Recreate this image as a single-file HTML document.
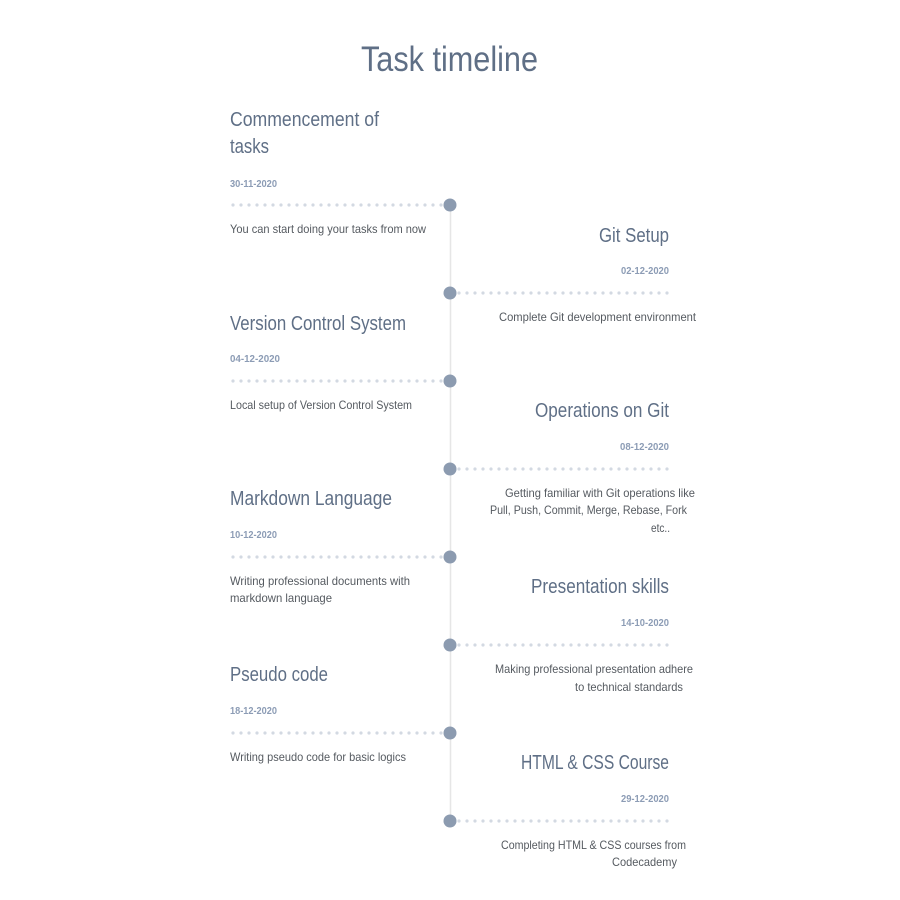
<!DOCTYPE html>
<html><head><meta charset="utf-8"><style>
html,body{margin:0;padding:0;background:#fff;width:900px;height:900px;overflow:hidden}
svg{display:block}
.h{font-family:"Liberation Sans",sans-serif;fill:#5f6f86;font-size:20px}
.d{font-family:"Liberation Sans",sans-serif;fill:#8c9cb5;font-size:10px;font-weight:bold}
.t{font-family:"Liberation Sans",sans-serif;fill:#555a60;font-size:12px}
</style></head><body>
<svg width="900" height="900" viewBox="0 0 900 900">
<text class="h" x="361" y="71" style="font-size:35px" textLength="177" lengthAdjust="spacingAndGlyphs">Task timeline</text>
<line x1="450.5" y1="205" x2="450.5" y2="821" stroke="#e6e6e6" stroke-width="1.5"/>
<path d="M233 205 H444 M233 381 H444 M233 557 H444 M233 733 H444 M459 293 H669 M459 469 H669 M459 645 H669 M459 821 H669" stroke="#d3d9e2" stroke-width="3.2" stroke-linecap="round" stroke-dasharray="0 8"/>
<g fill="#8c9bb0">
<circle cx="450" cy="205" r="6.5"/><circle cx="450" cy="293" r="6.5"/>
<circle cx="450" cy="381" r="6.5"/><circle cx="450" cy="469" r="6.5"/>
<circle cx="450" cy="557" r="6.5"/><circle cx="450" cy="645" r="6.5"/>
<circle cx="450" cy="733" r="6.5"/><circle cx="450" cy="821" r="6.5"/>
</g>
<!-- left -->
<text class="h" x="230" y="126" textLength="149" lengthAdjust="spacingAndGlyphs">Commencement of</text>
<text class="h" x="230" y="153" textLength="39" lengthAdjust="spacingAndGlyphs">tasks</text>
<text class="d" x="230" y="187" textLength="47" lengthAdjust="spacingAndGlyphs">30-11-2020</text>
<text class="t" x="230" y="233" textLength="196" lengthAdjust="spacingAndGlyphs">You can start doing your tasks from now</text>

<text class="h" x="230" y="330" textLength="176" lengthAdjust="spacingAndGlyphs">Version Control System</text>
<text class="d" x="230" y="362" textLength="50" lengthAdjust="spacingAndGlyphs">04-12-2020</text>
<text class="t" x="230" y="409" textLength="182" lengthAdjust="spacingAndGlyphs">Local setup of Version Control System</text>

<text class="h" x="230" y="505" textLength="162" lengthAdjust="spacingAndGlyphs">Markdown Language</text>
<text class="d" x="230" y="538" textLength="47" lengthAdjust="spacingAndGlyphs">10-12-2020</text>
<text class="t" x="230" y="585" textLength="180" lengthAdjust="spacingAndGlyphs">Writing professional documents with</text>
<text class="t" x="230" y="602" textLength="102" lengthAdjust="spacingAndGlyphs">markdown language</text>

<text class="h" x="230" y="681" textLength="98" lengthAdjust="spacingAndGlyphs">Pseudo code</text>
<text class="d" x="230" y="714" textLength="47" lengthAdjust="spacingAndGlyphs">18-12-2020</text>
<text class="t" x="230" y="761" textLength="176" lengthAdjust="spacingAndGlyphs">Writing pseudo code for basic logics</text>
<!-- right -->
<text class="h" x="599" y="242" textLength="70" lengthAdjust="spacingAndGlyphs">Git Setup</text>
<text class="d" x="621" y="274" textLength="48" lengthAdjust="spacingAndGlyphs">02-12-2020</text>
<text class="t" x="499" y="321" textLength="197" lengthAdjust="spacingAndGlyphs">Complete Git development environment</text>

<text class="h" x="535" y="417" textLength="134" lengthAdjust="spacingAndGlyphs">Operations on Git</text>
<text class="d" x="620" y="450" textLength="49" lengthAdjust="spacingAndGlyphs">08-12-2020</text>
<text class="t" x="505" y="497" textLength="190" lengthAdjust="spacingAndGlyphs">Getting familiar with Git operations like</text>
<text class="t" x="490" y="514" textLength="197" lengthAdjust="spacingAndGlyphs">Pull, Push, Commit, Merge, Rebase, Fork</text>
<text class="t" x="651" y="532" textLength="19" lengthAdjust="spacingAndGlyphs">etc..</text>

<text class="h" x="531" y="593" textLength="138" lengthAdjust="spacingAndGlyphs">Presentation skills</text>
<text class="d" x="621" y="626" textLength="48" lengthAdjust="spacingAndGlyphs">14-10-2020</text>
<text class="t" x="495" y="673" textLength="198" lengthAdjust="spacingAndGlyphs">Making professional presentation adhere</text>
<text class="t" x="575" y="691" textLength="108" lengthAdjust="spacingAndGlyphs">to technical standards</text>

<text class="h" x="521" y="769" textLength="148" lengthAdjust="spacingAndGlyphs">HTML &amp; CSS Course</text>
<text class="d" x="621" y="802" textLength="48" lengthAdjust="spacingAndGlyphs">29-12-2020</text>
<text class="t" x="501" y="849" textLength="185" lengthAdjust="spacingAndGlyphs">Completing HTML &amp; CSS courses from</text>
<text class="t" x="612" y="866" textLength="65" lengthAdjust="spacingAndGlyphs">Codecademy</text>
</svg>
</body></html>
